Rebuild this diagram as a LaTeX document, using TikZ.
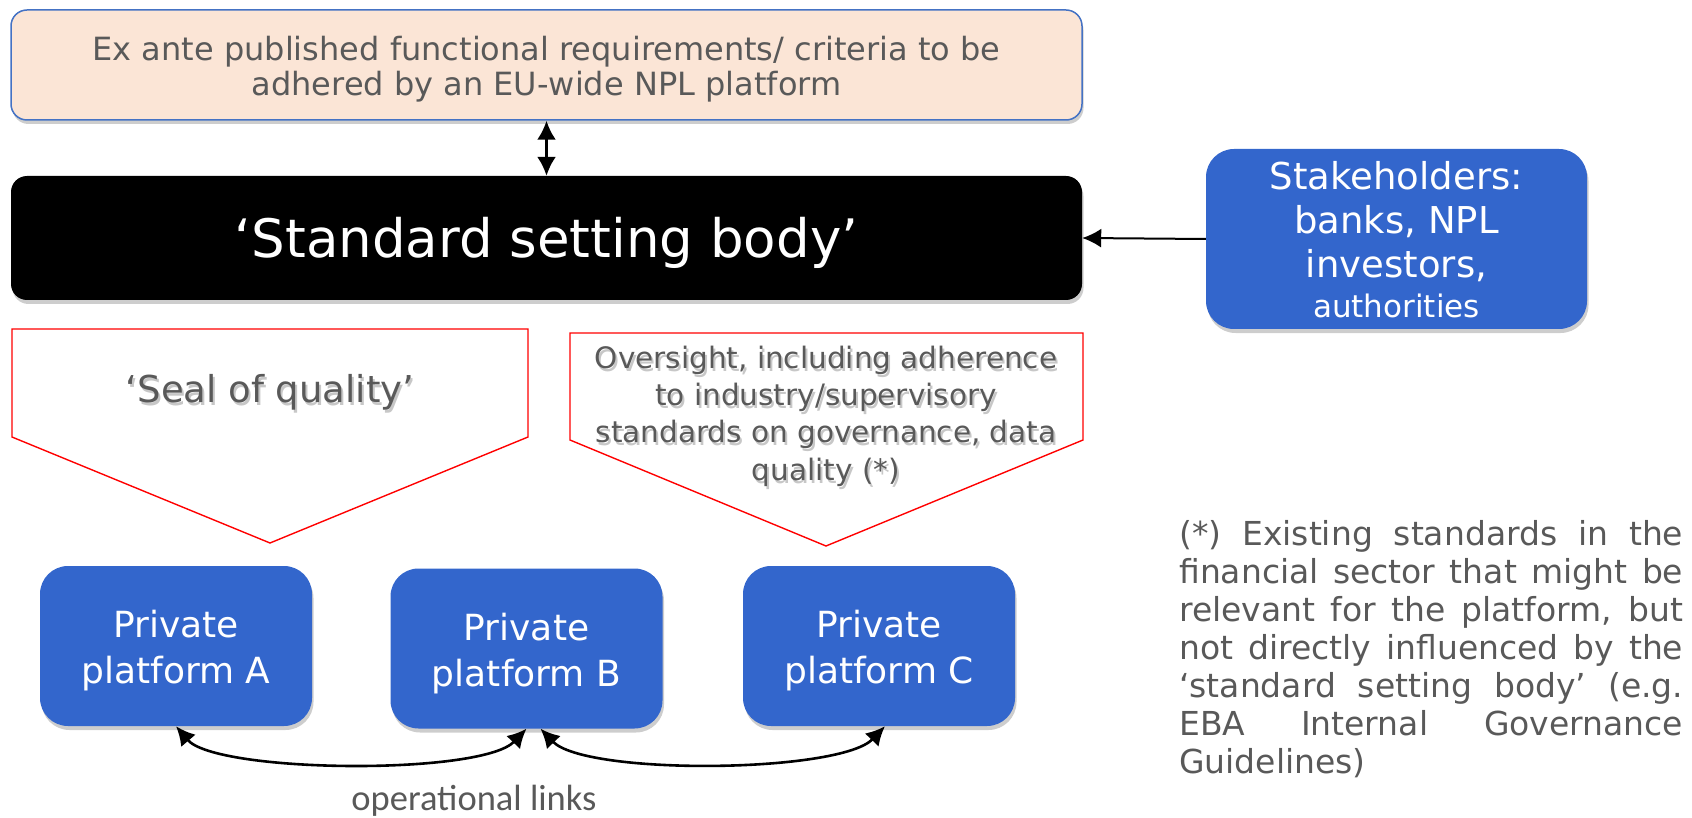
\documentclass[tikz,border=0pt]{standalone}
\usepackage{fontspec}
\setmainfont{DejaVu Sans}
\newfontfamily\calibri{Carlito}
\usetikzlibrary{arrows.meta,shadows,calc}
\definecolor{txtgrey}{HTML}{595959}
\definecolor{boxblue}{HTML}{3366CC}
\definecolor{peach}{HTML}{FBE5D6}
\definecolor{edgeblue}{HTML}{4472C4}
\definecolor{pentred}{HTML}{FF0000}
\tikzset{
  shadowed/.style={drop shadow={shadow xshift=1.5pt, shadow yshift=-4pt, opacity=0.28, fill=black!70}},
  reqbox/.style={fill=peach, draw=edgeblue, line width=1.5pt, rounded corners=16pt, inner sep=0pt, shadowed},
  bodybox/.style={fill=black, draw=none, rounded corners=16pt, inner sep=0pt, shadowed},
  bluebox/.style={fill=boxblue, draw=none, rounded corners=28pt, inner sep=0pt, shadowed},
  whitetext/.style={text=white, align=center, inner sep=0pt},
  pent/.style={draw=pentred, line width=1.4pt, fill=white},
  greytext/.style={text=txtgrey, align=center, inner sep=0pt},
  textshade/.style={text=black, opacity=0.22, align=center, inner sep=0pt},
  conn/.style={line width=2pt, -{Latex[length=19pt,width=19pt]}},
  dconn/.style={line width=2.6pt, {Latex[length=19pt,width=19pt]}-{Latex[length=19pt,width=19pt]}},
}
\begin{document}
\begin{tikzpicture}[x=1pt,y=-1pt]
\useasboundingbox (0,0) rectangle (1692,818);

% top requirements box
\node[reqbox, minimum width=1071pt, minimum height=110pt] (req) at (546.5,65) {};
\node[greytext, font=\fontsize{32}{35.5}\selectfont] (reqtext) at ([yshift=-4pt]req.center)
  {Ex ante published functional requirements/ criteria to be\\adhered by an EU-wide NPL platform};

% standard setting body
\node[bodybox, minimum width=1071pt, minimum height=124pt] (body) at (546.5,238) {};
\node[whitetext, font=\fontsize{53}{60}\selectfont] (bodytext) at ([yshift=-5pt]body.center)
  {‘Standard setting body’};

% stakeholders
\node[bluebox, minimum width=381pt, minimum height=180pt] (stake) at (1396.5,239) {};
\node[whitetext, font=\fontsize{37}{44}\selectfont] (staketext) at ([yshift=-1pt]stake.center)
  {Stakeholders:\\banks, NPL\\investors,\\[-4pt]{\fontsize{31}{36}\selectfont authorities}};

% pentagons
\draw[pent] (12,329) -- (528,329) -- (528,437) -- (270,543) -- (12,437) -- cycle;
\draw[pent] (570,333) -- (1083,333) -- (1083,440) -- (826,546) -- (570,440) -- cycle;

\node[textshade, font=\fontsize{37}{40}\selectfont] (sealshade) at (272,395) {‘Seal of quality’};
\node[greytext, font=\fontsize{37}{40}\selectfont] (seal) at (270,392) {‘Seal of quality’};

\node[textshade, font=\fontsize{29.5}{37.3}\selectfont] (oversshade) at (828,419)
  {Oversight, including adherence\\to industry/supervisory\\standards on governance, data\\quality (*)};
\node[greytext, font=\fontsize{29.5}{37.3}\selectfont] (overs) at (826,416)
  {Oversight, including adherence\\to industry/supervisory\\standards on governance, data\\quality (*)};

% private platforms
\node[bluebox, minimum width=272pt, minimum height=160pt] (pA) at (176,646) {};
\node[bluebox, minimum width=272pt, minimum height=160pt] (pB) at (526.5,648.5) {};
\node[bluebox, minimum width=272pt, minimum height=160pt] (pC) at (879,646) {};
\node[whitetext, font=\fontsize{36}{46}\selectfont] (pAtext) at ([yshift=-5pt]pA.center) {Private\\platform A};
\node[whitetext, font=\fontsize{36}{46}\selectfont] (pBtext) at ([yshift=-5pt]pB.center) {Private\\platform B};
\node[whitetext, font=\fontsize{36}{46}\selectfont] (pCtext) at ([yshift=-5pt]pC.center) {Private\\platform C};

% connectors
\draw[dconn] (req.south) -- (body.north);
\draw[conn] (stake.west) -- (body.east);
\draw[dconn] (pA.south) .. controls +(40,47) and +(-45,47) .. (pB.south);
\draw[dconn] ([xshift=14pt]pB.south) .. controls +(45,47) and +(-45,47) .. ([xshift=6pt]pC.south);

\node[greytext, font=\calibri\fontsize{36.5}{40}\selectfont] (ops) at (474,801) {operational links};

% footnote
\node[text=txtgrey, text width=504pt, align=justify, inner sep=0pt, anchor=north west,
  font=\fontsize{33}{38}\selectfont] (note) at (1179,520)
  {\hyphenpenalty=10000 (*) Existing standards in the\linebreak financial sector that might be\linebreak relevant for the platform, but\linebreak not directly influenced by the\linebreak ‘standard setting body’ (e.g.\linebreak EBA Internal Governance\linebreak Guidelines)};
\end{tikzpicture}
\end{document}
